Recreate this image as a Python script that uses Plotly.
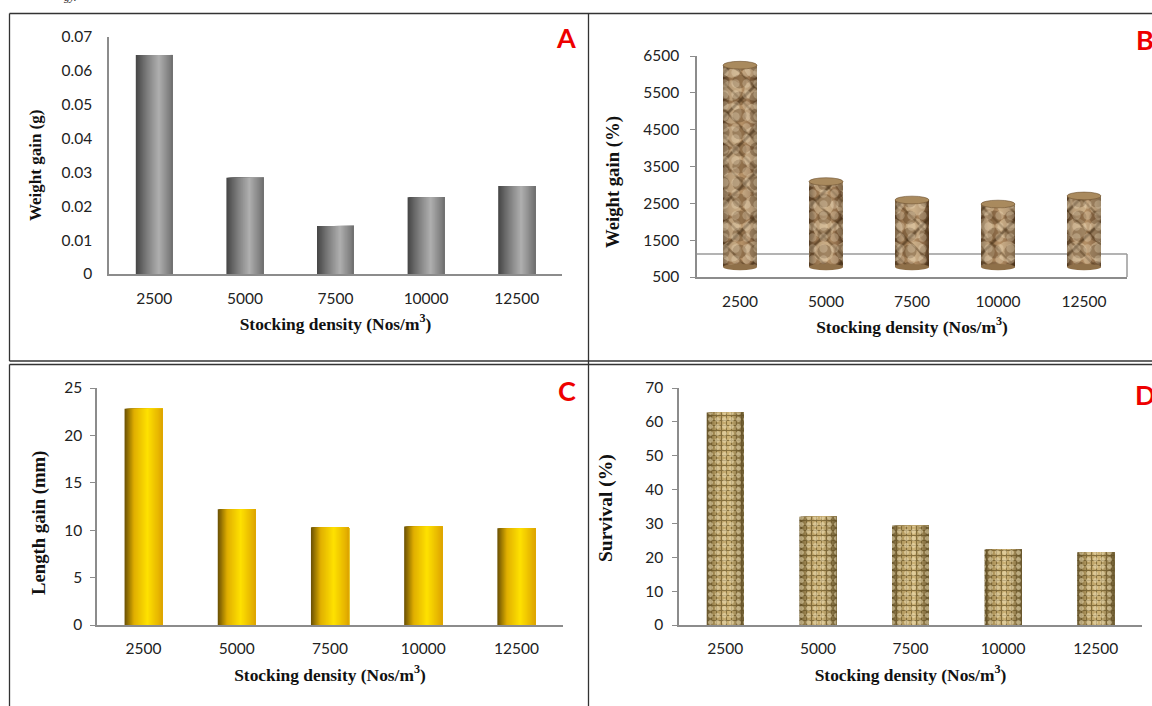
import plotly.graph_objects as go

W, H = 1152, 706

categories = ["2500", "5000", "7500", "10000", "12500"]
weight_gain_g = [0.0647, 0.0284, 0.0142, 0.0227, 0.0260]
weight_gain_pct = [6250, 3090, 2590, 2480, 2700]
length_gain_mm = [22.8, 12.2, 10.3, 10.4, 10.2]
survival_pct = [62.8, 32.0, 29.3, 22.3, 21.5]

ticks_a = [0, 0.01, 0.02, 0.03, 0.04, 0.05, 0.06, 0.07]
ticks_b = [500, 1500, 2500, 3500, 4500, 5500, 6500]
ticks_c = [0, 5, 10, 15, 20, 25]
ticks_d = [0, 10, 20, 30, 40, 50, 60, 70]

x_title = "Stocking density (Nos/m<sup>3</sup>)"
B_BASE = 770
B_FLOOR = 1125

GREY = [(0, (70, 70, 70)), (0.3, (125, 125, 125)), (0.62, (176, 176, 176)), (1, (112, 112, 112))]
GOLD = [(0, (105, 80, 5)), (0.25, (225, 175, 0)), (0.6, (255, 226, 0)), (1, (222, 165, 0))]
ROCK = [(0, (85, 62, 38)), (0.2, (150, 115, 78)), (0.55, (182, 146, 104)), (0.85, (140, 106, 72)), (1, (88, 64, 40))]
SACK = [(0, (104, 86, 46)), (0.25, (178, 152, 94)), (0.6, (206, 180, 120)), (1, (110, 92, 50))]


def shade(stops, t):
    for (t0, c0), (t1, c1) in zip(stops, stops[1:]):
        if t <= t1:
            f = (t - t0) / (t1 - t0)
            return "rgb(%d,%d,%d)" % tuple(a + (b - a) * f for a, b in zip(c0, c1))
    return "rgb(%d,%d,%d)" % stops[-1][1]


fig = go.Figure()


def add_bars(values, stops, width, axis, base=0, n=36):
    for k in range(n):
        start = k / n
        fig.add_bar(x=categories, y=[v - base for v in values], base=base,
                    offset=-width / 2 + start * width, width=width * (1 - start),
                    marker=dict(color=shade(stops, (k + 0.5) / n), line_width=0),
                    xaxis="x" + axis, yaxis="y" + axis, showlegend=False, hoverinfo="skip")


def add_texture(values, width, axis, shape, size, solidity, color, opacity, base=0):
    fig.add_bar(x=categories, y=[v - base for v in values], base=base,
                offset=-width / 2, width=width,
                marker=dict(color="rgba(0,0,0,0)", line_width=0,
                            pattern=dict(shape=shape, size=size, solidity=solidity, fgcolor=color,
                                         fgopacity=opacity, bgcolor="rgba(0,0,0,0)")),
                xaxis="x" + axis, yaxis="y" + axis, showlegend=False, hoverinfo="skip")


add_bars(weight_gain_g, GREY, 37 / 90.6, "")
add_bars(weight_gain_pct, ROCK, 34 / 86, "2", base=B_BASE)
for shape, size, sol, col, op in [(".", 23, 0.62, "#ecd9b5", 0.42),
                                  (".", 17, 0.55, "#4e3519", 0.34),
                                  ("/", 31, 0.09, "#3f2a12", 0.55),
                                  ("\\", 19, 0.12, "#4a3115", 0.42),
                                  (".", 11, 0.45, "#f3e3c5", 0.30)]:
    add_texture(weight_gain_pct, 34 / 86, "2", shape, size, sol, col, op, base=B_BASE)
add_bars(length_gain_mm, GOLD, 38 / 93, "3")
add_bars(survival_pct, SACK, 37 / 92.6, "4")
add_texture(survival_pct, 37 / 92.6, "4", "+", 5, 0.38, "#5f4b20", 0.62)
add_texture(survival_pct, 37 / 92.6, "4", ".", 7, 0.4, "#f6e8bf", 0.5)


def frame(left, right, top, bottom):
    return [left / W, right / W], [1 - bottom / H, 1 - top / H]


tick_font = dict(family="Lato, Carlito, Calibri, sans-serif", size=15.5, color="#222222")
title_font = dict(family="Liberation Serif, serif", size=17.4, color="#111111", weight="bold")
line = dict(showline=True, linecolor="#8c8c8c", linewidth=1.5, showgrid=False, zeroline=False,
            tickfont=tick_font, ticklen=0)


def axes(suffix, dom, y_range, ticks, y_fmt, tick_len, x_label_gap, y_label_gap, xstand):
    dx, dy = dom
    anchor_y = "y" + suffix
    anchor_x = "x" + suffix
    x_name = "xaxis" + suffix
    y_name = "yaxis" + suffix
    fig.layout[x_name] = dict(line, domain=dx, anchor=anchor_y, type="category",
                              categoryorder="array", categoryarray=categories,
                              range=[-0.5, 4.5], ticks="", ticklabelstandoff=x_label_gap,
                              title=dict(text=x_title, font=title_font, standoff=xstand))
    fig.layout[y_name] = dict(line, domain=dy, anchor=anchor_x, range=y_range, tickvals=ticks,
                              ticktext=[y_fmt(t) for t in ticks],
                              ticks="outside" if tick_len else "", ticklen=tick_len,
                              tickcolor="#8c8c8c", ticklabelstandoff=y_label_gap)


axes("", frame(109, 562, 37, 274), [0, 0.07], ticks_a, lambda t: f"{t:g}", 0, 10, 12, 11)
axes("2", frame(697, 1127, 56, 277), [500, 6500], ticks_b, str, 5, 10, 8, 11)
axes("3", frame(97, 563, 388, 625), [0, 25], ticks_c, str, 5, 9, 5, 12)
axes("4", frame(679, 1142, 388, 625), [0, 70], ticks_d, str, 5, 9, 6, 12)

shapes = []


def page_line(x0, y0, x1, y1):
    shapes.append(dict(type="line", xref="paper", yref="paper", x0=x0 / W, x1=x1 / W,
                       y0=1 - y0 / H, y1=1 - y1 / H, line=dict(color="#333333", width=1.3), layer="above"))


page_line(9.5, 13.5, W, 13.5)
page_line(9.5, 13.5, 9.5, 361)
page_line(9.5, 361, W, 361)
page_line(9.5, 364.5, W, 364.5)
page_line(9.5, 364.5, 9.5, H)
page_line(588.5, 13.5, 588.5, H)

# back wall of the 3D floor on panel B
shapes.append(dict(type="line", xref="x2 domain", yref="y2", x0=0, x1=1, y0=B_FLOOR, y1=B_FLOOR,
                   line=dict(color="#9a9a9a", width=1.5), layer="below"))
shapes.append(dict(type="line", xref="x2 domain", yref="y2", x0=1, x1=1, y0=500, y1=B_FLOOR,
                   line=dict(color="#9a9a9a", width=1.5), layer="below"))

half = 34 / 86 / 2
for i, v in enumerate(weight_gain_pct):
    shapes.append(dict(type="circle", xref="x2", yref="y2", x0=i - half, x1=i + half,
                       y0=B_BASE - 85, y1=B_BASE + 85, fillcolor="#8f7049", line_width=0, layer="above"))
    shapes.append(dict(type="circle", xref="x2", yref="y2", x0=i - half, x1=i + half,
                       y0=v - 105, y1=v + 105, fillcolor="#a98a5e",
                       line=dict(color="#6e5230", width=0.6), layer="above"))

annotations = []
letter_font = dict(family="Lato, Carlito, Calibri, sans-serif", size=27, color="#ee0000", weight="bold")
for text, px, py in [("A", 566, 38), ("B", 1145, 39), ("C", 567, 391), ("D", 1145, 394)]:
    annotations.append(dict(text=text, xref="paper", yref="paper", x=px / W, y=1 - py / H,
                            showarrow=False, font=letter_font, xanchor="center", yanchor="middle"))
annotations.append(dict(text="<i>gy.</i>", xref="paper", yref="paper", x=70 / W, y=1 + 3 / H, showarrow=False,
                        font=dict(family="Liberation Serif, serif", size=11, color="#222222"),
                        xanchor="center", yanchor="middle"))
for text, px, py, size in [("Weight gain (g)", 35, 166, 17), ("Weight gain (%)", 613, 182, 18.7),
                           ("Length gain (mm)", 39, 523, 18.7), ("Survival (%)", 606, 508, 19.5)]:
    annotations.append(dict(text=text, xref="paper", yref="paper", x=px / W, y=1 - py / H, textangle=-90,
                            showarrow=False, font=dict(title_font, size=size), xanchor="center", yanchor="middle"))

fig.update_layout(width=W, height=H, margin=dict(l=0, r=0, t=0, b=0, autoexpand=False), barmode="overlay",
                  paper_bgcolor="white", plot_bgcolor="white", showlegend=False,
                  shapes=shapes, annotations=annotations)
fig.write_html("out.html", config={"displayModeBar": False},
               post_script="document.body.style.margin='0';document.documentElement.style.overflow='hidden';")
